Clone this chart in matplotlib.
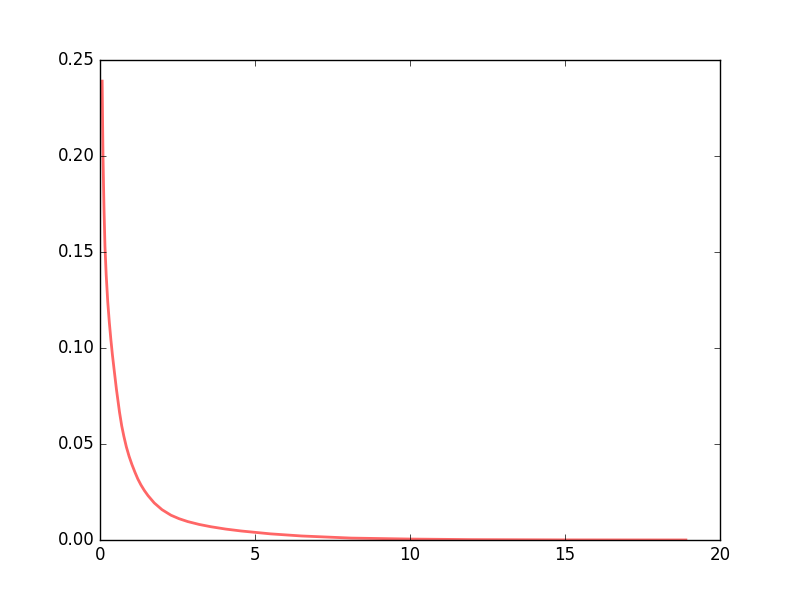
import matplotlib
matplotlib.use("Agg")
import matplotlib.pyplot as plt

plt.style.use('classic')

x_vals = [0.07, 0.085, 0.097, 0.115, 0.13, 0.16, 0.20, 0.25, 0.30, 0.35, 0.40,
          0.45, 0.53, 0.63, 0.70, 0.77, 0.85, 0.94, 1.03, 1.13, 1.22, 1.32,
          1.43, 1.55, 1.75, 2.0, 2.29, 2.55, 2.83, 3.2, 3.58, 4.05, 4.55, 5.5,
          6.5, 8.1, 10.0, 12.0, 15.0, 18.9]
y_vals = [0.239, 0.216, 0.200, 0.184, 0.172, 0.153, 0.138, 0.124, 0.1135,
          0.1045, 0.0965, 0.0895, 0.0785, 0.0665, 0.0595, 0.054, 0.0485,
          0.0435, 0.0393, 0.0352, 0.0318, 0.0287, 0.0258, 0.0231, 0.0193,
          0.0158, 0.0129, 0.0111, 0.0096, 0.0081, 0.0069, 0.0057, 0.0047,
          0.0032, 0.0021, 0.0010, 0.0005, 0.0002, 0.00006, 0.00002]

fig = plt.figure(figsize=(8, 6), dpi=100, facecolor='white')
ax = fig.add_subplot(111)
ax.plot(x_vals, y_vals, 'r-', lw=2, alpha=0.6)
ax.set_xlim(0, 20)
ax.set_ylim(0, 0.25)
fig.savefig('out.png', dpi=100, facecolor='white')
